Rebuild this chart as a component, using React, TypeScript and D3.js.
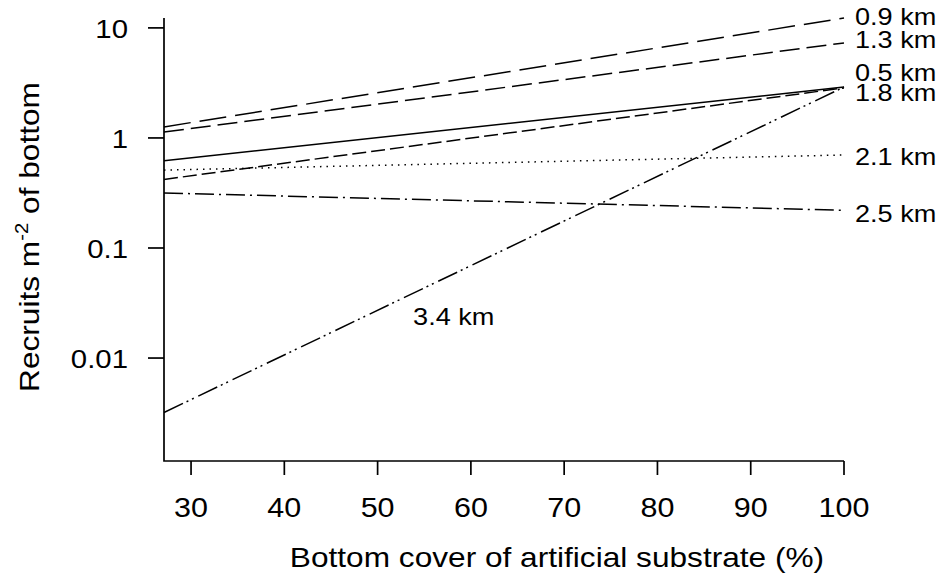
import * as d3 from 'd3';

// distance from the reef, one fitted line each
const distances = ['0.5 km', '0.9 km', '1.3 km', '1.8 km', '2.1 km', '2.5 km', '3.4 km'];
const coverExtent = [27.1, 100];
const recruitsAtStart = [0.62, 1.26, 1.13, 0.42, 0.51, 0.316, 0.0032];
const recruitsAtEnd = [2.9, 12.3, 7.3, 2.85, 0.7, 0.22, 2.9];
const xTicks = [30, 40, 50, 60, 70, 80, 90, 100];
const yTicks = [10, 1, 0.1, 0.01];
const yTickLabels = ['10', '1', '0.1', '0.01'];
const yExtent = [0.00116, 12.3];

// line styles, same order as distances
const dashes = ['none', '27 9', '20 7', '14 5', '1.5 5', '19 5 2 5', '21 4 2 4 2 5'];
// vertical nudge of the right-hand labels (px), 3.4 km is placed separately
const labelDy = [-14.5, -2, -3, 4.5, 2, 3, 0];
const innerLabel = { cover: 53.8, value: 0.02 };

const WIDTH = 939;
const HEIGHT = 577;
const FONT = '"Liberation Sans", Arial, sans-serif';
const STRETCH = 1.13; // the figure's lettering is a bit wider than Arial

const Label = ({ x, y, size, anchor = 'start', rotate = 0, children }: any) => (
  <text
    transform={`translate(${x},${y}) rotate(${rotate}) scale(${STRETCH},1)`}
    fontSize={size}
    fontFamily={FONT}
    textAnchor={anchor}
    fill="#000"
  >
    {children}
  </text>
);

const App = () => {
  const xScale = d3.scaleLinear().domain(coverExtent).range([164, 844]);
  const yScale = d3.scaleLog().domain(yExtent).range([461, 18]);

  const line = d3
    .line<[number, number]>()
    .x((d) => xScale(d[0]))
    .y((d) => yScale(d[1]));

  const [x0, x1] = xScale.range();
  const [yBottom, yTop] = yScale.range();

  return (
    <svg width={WIDTH} height={HEIGHT} style={{ position: 'absolute', left: 0, top: 0 }}>
      <rect width={WIDTH} height={HEIGHT} fill="#fff" />

      {distances.map((name, i) => (
        <path
          key={name}
          d={line([
            [coverExtent[0], recruitsAtStart[i]],
            [coverExtent[1], recruitsAtEnd[i]],
          ]) || ''}
          fill="none"
          stroke="#000"
          strokeWidth={1.5}
          strokeDasharray={dashes[i]}
        />
      ))}

      {/* axes */}
      <path
        d={`M${x0},${yTop}V${yBottom}H${x1}`}
        fill="none"
        stroke="#000"
        strokeWidth={1.7}
      />
      {yTicks.map((t, i) => (
        <g key={t}>
          <line x1={148} x2={x0} y1={yScale(t)} y2={yScale(t)} stroke="#000" strokeWidth={1.7} />
          <Label x={128} y={yScale(t) + 10} size={26} anchor="end">
            {yTickLabels[i]}
          </Label>
        </g>
      ))}
      {xTicks.map((t) => (
        <g key={t}>
          <line x1={xScale(t)} x2={xScale(t)} y1={yBottom} y2={yBottom + 14} stroke="#000" strokeWidth={1.7} />
          <Label x={xScale(t)} y={517} size={27} anchor="middle">
            {t}
          </Label>
        </g>
      ))}

      <Label x={557} y={567} size={28} anchor="middle">
        Bottom cover of artificial substrate (%)
      </Label>
      <Label x={39} y={237} size={28} anchor="middle" rotate={-90}>
        Recruits m
        <tspan fontSize={18} dy={-11}>-2</tspan>
        <tspan dy={11}> of bottom</tspan>
      </Label>

      {/* line labels */}
      {distances.slice(0, 6).map((name, i) => (
        <Label key={name} x={855} y={yScale(recruitsAtEnd[i]) + 8.5 + labelDy[i]} size={24}>
          {name}
        </Label>
      ))}
      <Label x={xScale(innerLabel.cover)} y={yScale(innerLabel.value)} size={24}>
        {distances[6]}
      </Label>
    </svg>
  );
};

export default App;
